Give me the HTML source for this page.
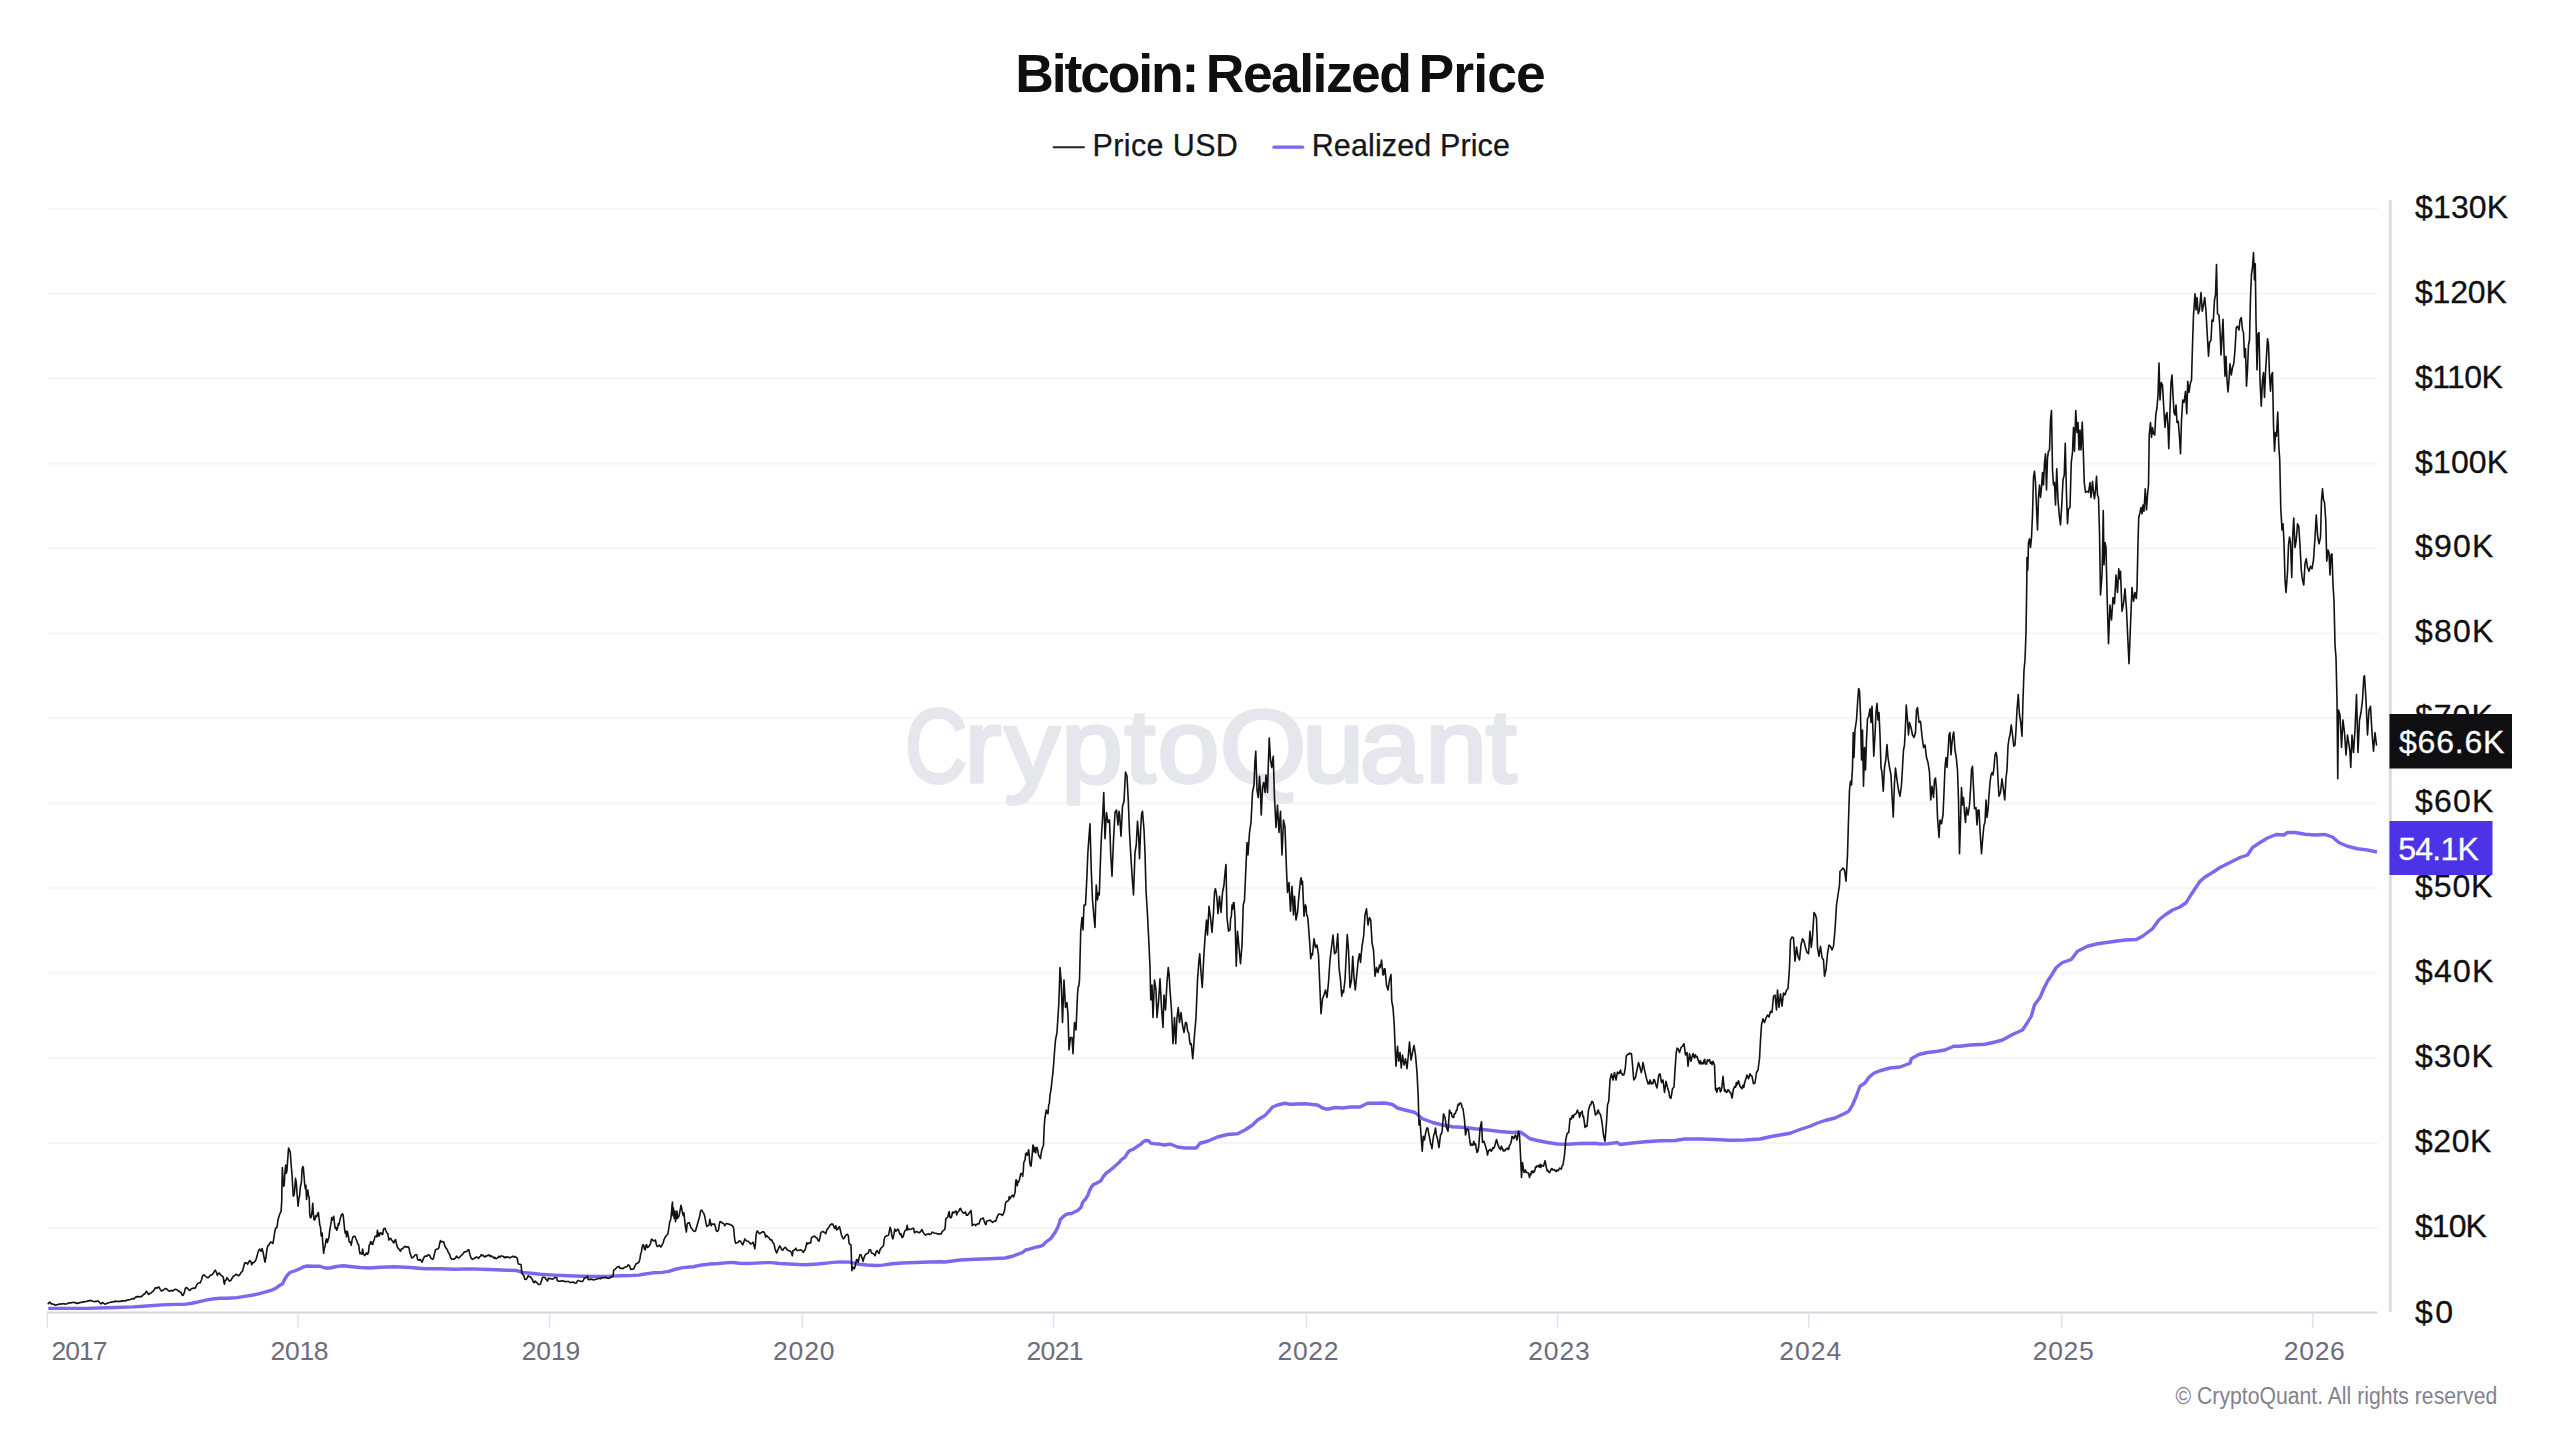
<!DOCTYPE html>
<html lang="en"><head><meta charset="utf-8"><title>Bitcoin: Realized Price</title>
<style>
html,body{margin:0;padding:0;background:#fff;}
body{width:2560px;height:1440px;overflow:hidden;position:relative;font-family:"Liberation Sans", Arial, Helvetica, sans-serif;}
svg{position:absolute;left:0;top:0;display:block}
text{font-family:"Liberation Sans", Arial, Helvetica, sans-serif;}
.ttl{font-size:53.5px;font-weight:700;fill:#0f0f12;letter-spacing:-1.9px;word-spacing:-3px}
.lg{font-size:30.5px;fill:#15151a;stroke:#15151a;stroke-width:0.25px;letter-spacing:0.38px}
.yl{font-size:32px;fill:#101014;letter-spacing:-0.1px;stroke:#101014;stroke-width:0.3px}
.xl{font-size:26.5px;fill:#6c6c7c}
.cp{font-size:23px;fill:#82828f}
.wm{font-size:103px;font-weight:400;fill:#e6e6ed;stroke:#e6e6ed;stroke-width:3.5px;stroke-linejoin:round}
</style></head><body>
<svg width="2560" height="1440" viewBox="0 0 2560 1440">
<rect width="2560" height="1440" fill="#ffffff"/>

<g stroke="#f5f5f8" stroke-width="2" fill="none">
<line x1="48" y1="1227.96" x2="2377.6" y2="1227.96"/>
<line x1="48" y1="1143.02" x2="2377.6" y2="1143.02"/>
<line x1="48" y1="1058.08" x2="2377.6" y2="1058.08"/>
<line x1="48" y1="973.14" x2="2377.6" y2="973.14"/>
<line x1="48" y1="888.20" x2="2377.6" y2="888.20"/>
<line x1="48" y1="803.26" x2="2377.6" y2="803.26"/>
<line x1="48" y1="718.32" x2="2377.6" y2="718.32"/>
<line x1="48" y1="633.38" x2="2377.6" y2="633.38"/>
<line x1="48" y1="548.44" x2="2377.6" y2="548.44"/>
<line x1="48" y1="463.50" x2="2377.6" y2="463.50"/>
<line x1="48" y1="378.56" x2="2377.6" y2="378.56"/>
<line x1="48" y1="293.62" x2="2377.6" y2="293.62"/>
<line x1="48" y1="208.68" x2="2377.6" y2="208.68"/>
</g>
<text class="wm" transform="scale(1.08 1)" x="837.7 892.8 930.2 982.3 1041.2 1071.8 1129.5 1205.8 1258.7 1319.7 1375.6" y="782"><tspan textLength="58" lengthAdjust="spacingAndGlyphs">C</tspan>ryptoQuant</text>
<g stroke="#d6d6e2" stroke-width="2" fill="none">
<line x1="46.5" y1="1312.6" x2="2377.6" y2="1312.6"/>
<line x1="2390.3" y1="200" x2="2390.3" y2="1312" stroke-width="3" stroke="#dadae6"/>
</g>
<g stroke="#e1e1ea" stroke-width="1.5" fill="none">
<line x1="47.25" y1="1312.6" x2="47.25" y2="1327.8"/>
<line x1="298.1" y1="1312.6" x2="298.1" y2="1327.8"/>
<line x1="549.5" y1="1312.6" x2="549.5" y2="1327.8"/>
<line x1="802.25" y1="1312.6" x2="802.25" y2="1327.8"/>
<line x1="1053.5" y1="1312.6" x2="1053.5" y2="1327.8"/>
<line x1="1306.5" y1="1312.6" x2="1306.5" y2="1327.8"/>
<line x1="1557.5" y1="1312.6" x2="1557.5" y2="1327.8"/>
<line x1="1808.75" y1="1312.6" x2="1808.75" y2="1327.8"/>
<line x1="2061.75" y1="1312.6" x2="2061.75" y2="1327.8"/>
<line x1="2312.8" y1="1312.6" x2="2312.8" y2="1327.8"/>
</g>
<text class="xl" x="51.6" y="1360.3" style="letter-spacing:-1.0px">2017</text>
<text class="xl" x="299.44" y="1360.3" text-anchor="middle" style="letter-spacing:-0.33px">2018</text>
<text class="xl" x="550.91" y="1360.3" text-anchor="middle" style="letter-spacing:-0.17px">2019</text>
<text class="xl" x="804.16" y="1360.3" text-anchor="middle" style="letter-spacing:0.83px">2020</text>
<text class="xl" x="1054.66" y="1360.3" text-anchor="middle" style="letter-spacing:-0.67px">2021</text>
<text class="xl" x="1308.34" y="1360.3" text-anchor="middle" style="letter-spacing:0.67px">2022</text>
<text class="xl" x="1559.45" y="1360.3" text-anchor="middle" style="letter-spacing:0.9px">2023</text>
<text class="xl" x="1810.75" y="1360.3" text-anchor="middle" style="letter-spacing:1.0px">2024</text>
<text class="xl" x="2063.62" y="1360.3" text-anchor="middle" style="letter-spacing:0.75px">2025</text>
<text class="xl" x="2314.64" y="1360.3" text-anchor="middle" style="letter-spacing:0.67px">2026</text>
<text class="yl" x="2415" y="1323.3" style="letter-spacing:2.4px">$0</text>
<text class="yl" x="2415" y="1237.0" style="letter-spacing:-0.95px">$10K</text>
<text class="yl" x="2415" y="1152.0" style="letter-spacing:0.55px">$20K</text>
<text class="yl" x="2415" y="1067.1" style="letter-spacing:1.0px">$30K</text>
<text class="yl" x="2415" y="982.1" style="letter-spacing:1.2px">$40K</text>
<text class="yl" x="2415" y="897.2" style="letter-spacing:0.9px">$50K</text>
<text class="yl" x="2415" y="812.3" style="letter-spacing:1.2px">$60K</text>
<text class="yl" x="2415" y="727.3" style="letter-spacing:1.0px">$70K</text>
<text class="yl" x="2415" y="642.4" style="letter-spacing:1.2px">$80K</text>
<text class="yl" x="2415" y="557.4" style="letter-spacing:1.2px">$90K</text>
<text class="yl" x="2415" y="472.5" style="letter-spacing:0.15px">$100K</text>
<text class="yl" x="2415" y="387.6" style="letter-spacing:-0.6px">$110K</text>
<text class="yl" x="2415" y="302.6" style="letter-spacing:-0.18px">$120K</text>
<text class="yl" x="2415" y="217.7" style="letter-spacing:0.15px">$130K</text>
<path d="M48.2 1308.41 L86.87 1308.41 L115 1307.47 L133.75 1306.91 L143.12 1306.25 L161.87 1304.84 L175.94 1304.37 L185.31 1304.19 L191.87 1303.25 L199.37 1301.56 L206.87 1299.87 L214.37 1298.75 L220.94 1298.09 L227.5 1298.28 L236.87 1297.62 L246.25 1296.12 L255.62 1294.53 L265 1292.19 L272.5 1289.84 L276.25 1287.97 L280 1285.16 L282.5 1283.75 L285 1278.75 L287.5 1275 L290 1272.5 L295 1270.75 L300 1268.75 L303.75 1266.75 L307.5 1266 L312.5 1266.25 L320 1266.25 L325 1268 L330 1268 L336.25 1266.5 L343.75 1265.75 L350 1266.5 L360 1267.5 L370 1268 L380 1267.25 L395 1266.75 L410 1267.5 L425 1268.75 L440 1268.75 L455 1269.25 L470 1268.87 L488.75 1269.53 L507.5 1270.28 L516.87 1270.56 L522.5 1272.34 L530.94 1273.28 L540.31 1274.22 L554.37 1275.16 L568.44 1275.81 L582.5 1276.28 L596.56 1276.56 L605.94 1276.56 L612.5 1276.09 L620 1275.81 L629.37 1275.62 L638.75 1275.16 L643.44 1274.22 L652.81 1272.81 L662.19 1272.34 L668.75 1271.41 L674.37 1269.53 L682.81 1267.66 L693.12 1266.72 L699.69 1265.31 L706.25 1264.56 L709.37 1264.03 L718.75 1263.56 L728.12 1262.62 L732.81 1262.53 L739.37 1263.28 L746.87 1263.47 L756.25 1263.09 L765.62 1262.62 L771.25 1262.62 L779.69 1263.47 L789.06 1263.94 L798.44 1264.5 L805.94 1264.69 L817.19 1264.03 L826.56 1263.09 L833.12 1262.34 L840.62 1261.87 L850 1262.16 L854.69 1263.28 L859.37 1264.22 L866.87 1264.97 L875.31 1265.44 L882.81 1265.16 L892.19 1263.75 L901.56 1263 L915.62 1262.53 L929.69 1262.06 L940 1261.69 L945 1262 L960 1260 L975 1259.25 L990 1258.75 L1005 1258 L1012.5 1256.25 L1022.5 1252.5 L1025.62 1250 L1029.37 1249.06 L1035 1247.37 L1040.62 1246.25 L1043.44 1244.84 L1045.31 1242.5 L1050.94 1238.28 L1054.69 1233.12 L1057.5 1227.97 L1059.37 1222.81 L1060.31 1219.53 L1063.12 1216.72 L1065.94 1214.66 L1068.75 1213.72 L1071.56 1213.44 L1074.37 1212.03 L1078.12 1210.16 L1080.94 1207.34 L1082.81 1202.19 L1085.62 1198.91 L1087.97 1195.16 L1089.37 1190.94 L1091.25 1187.19 L1093.12 1184.84 L1096.41 1183.25 L1100.62 1181.09 L1103.44 1176.41 L1106.25 1173.12 L1110 1170.31 L1114.22 1166.84 L1119.37 1162.34 L1121.25 1159.81 L1125 1157.19 L1127.81 1152.5 L1129.69 1150.62 L1133.44 1149.22 L1138.12 1145.94 L1140.94 1144.06 L1143.28 1141.72 L1145.62 1140.5 L1148.44 1140.78 L1150.78 1143.12 L1155 1143.87 L1159.69 1144.06 L1164.37 1145 L1170 1144.06 L1171.25 1144.5 L1177.5 1147 L1185 1148 L1196.25 1148 L1200 1143.25 L1207.5 1141.25 L1217.5 1137 L1227.5 1134.5 L1237.5 1133.75 L1245 1130 L1252.5 1125 L1257.5 1120 L1265 1115.5 L1272.5 1107 L1277.5 1105 L1285 1103.25 L1290 1104.25 L1305 1103.75 L1317.5 1105 L1322.5 1108 L1327.5 1109.25 L1335 1107.5 L1342.5 1108 L1350 1107 L1360 1107 L1367.5 1103.25 L1375 1103.25 L1385 1103 L1392.5 1104.5 L1397.5 1108 L1405 1110 L1415 1112.5 L1422.5 1118.75 L1432.5 1122.5 L1442.5 1125 L1452.5 1126.75 L1465 1127.5 L1475 1128.75 L1487.5 1130 L1500 1131.5 L1512.5 1132.5 L1520 1132 L1525 1135 L1530 1138.75 L1537.5 1140.5 L1547.5 1142.5 L1557.5 1144 L1567.5 1144.25 L1580 1143.5 L1595 1143.25 L1600 1144 L1607.5 1143.75 L1617.5 1142.5 L1620 1144.5 L1630 1143.25 L1645 1141.75 L1660 1140.75 L1675 1140.5 L1685 1139 L1700 1139 L1715 1139.5 L1730 1140.25 L1745 1140 L1760 1139 L1770 1136.75 L1780 1135 L1790 1133.25 L1800 1129.5 L1810 1126.25 L1817.5 1123 L1825 1120.5 L1835 1118 L1842.5 1114.5 L1848.75 1111.25 L1852.5 1105 L1856.25 1096.25 L1860 1086.25 L1865 1083 L1868.75 1077.5 L1873.75 1073.25 L1880 1070.75 L1890 1068 L1900 1067 L1910 1063.25 L1911.25 1058.75 L1918.75 1054.5 L1927.5 1052.5 L1937.5 1051.25 L1945 1050 L1953.75 1046.25 L1960 1046.25 L1970 1045 L1985 1044.25 L1995 1042 L2002.5 1040 L2012.5 1034.5 L2022.5 1030 L2027.5 1022.5 L2031.25 1016.25 L2034.5 1005 L2040 997.5 L2043.75 988.75 L2047.5 981.25 L2052 974.5 L2056.25 967.5 L2062.5 962.5 L2071.25 959.5 L2077.5 951.25 L2087.5 946.25 L2097.5 943.75 L2110 942 L2125 940 L2136.25 939.5 L2142.5 936.25 L2152.5 928.75 L2158.75 920 L2165 915 L2172.5 910 L2180 907 L2186.25 902.5 L2190 896.25 L2195 888.75 L2200 881.25 L2205 877 L2212.5 872.5 L2220 867.5 L2230 862.5 L2240 857.5 L2247.5 855 L2252.5 847.5 L2260 842.5 L2267.5 838 L2276.25 834.5 L2283.75 835 L2287.5 832.5 L2295 832.5 L2305 834.25 L2315 835 L2325 834.5 L2332.5 837 L2338.75 842.5 L2347.5 846.25 L2357.5 848.75 L2367.5 850 L2377 852" fill="none" stroke="#7b68ee" stroke-width="3.4" stroke-linejoin="round" stroke-linecap="butt"/>
<path d="M48.25 1303.62 L49.05 1302.7 L49.84 1302.03 L51.25 1303.91 L52.19 1303.8 L53.12 1304.19 L53.9 1304.67 L54.69 1304.64 L55.47 1305.31 L56.25 1305.08 L57.03 1304.72 L57.81 1304.56 L58.59 1304.13 L59.38 1304.32 L60.16 1304.19 L60.94 1303.77 L61.72 1303.96 L62.5 1303.91 L63.28 1303.67 L64.06 1303.74 L64.84 1304.09 L65.62 1303.91 L66.41 1304.07 L67.19 1303.72 L67.89 1303.19 L68.59 1303 L69.3 1303.04 L70 1302.69 L70.78 1302.96 L71.56 1302.62 L72.34 1302.5 L73.75 1302.31 L74.69 1302.56 L75.62 1302.97 L76.33 1303.39 L77.03 1302.78 L77.73 1303.44 L78.44 1303.25 L79.14 1302.91 L79.84 1302.61 L80.55 1302.41 L81.25 1302.5 L82.03 1302.11 L82.81 1302.24 L83.59 1301.75 L84.37 1301.44 L85.16 1301.69 L85.94 1301.56 L86.72 1301.45 L87.5 1301.03 L88.28 1300.91 L89.06 1300.85 L89.84 1300.37 L90.62 1300.62 L91.25 1300.43 L91.87 1300.7 L92.5 1301.09 L93.44 1301.56 L94.37 1301.75 L95 1301.57 L95.62 1301.35 L96.25 1301.37 L97.19 1301.21 L98.12 1300.91 L98.75 1301.56 L99.37 1302.13 L100 1302.97 L100.94 1303.91 L102.34 1302.5 L103.75 1303.44 L104.87 1304.19 L105.72 1304.02 L106.56 1303.44 L107.34 1303.33 L108.13 1302.75 L108.91 1302.69 L109.69 1302.53 L110.47 1302.27 L111.25 1302.03 L111.95 1302.2 L112.66 1301.97 L113.36 1301.52 L114.06 1301.56 L114.84 1301.83 L115.63 1301.08 L116.41 1301.28 L117.19 1301.31 L117.97 1301.66 L118.75 1301.56 L119.53 1301.2 L120.31 1301.36 L121.09 1301.28 L121.87 1300.77 L122.66 1301.1 L123.44 1300.81 L124.22 1300.95 L125 1300.74 L125.78 1300.62 L126.56 1300.67 L127.34 1299.97 L128.12 1299.87 L128.9 1299.9 L129.69 1299.7 L130.47 1299.5 L131.41 1299.1 L132.34 1298.56 L132.97 1298.59 L133.59 1298.97 L134.22 1298.75 L135.62 1297.06 L136.25 1297.23 L136.87 1296.6 L137.5 1296.41 L138.91 1296.87 L140.31 1296.41 L141.25 1296.69 L142.19 1295.99 L143.12 1295 L143.75 1294.12 L144.37 1294.25 L145 1293.59 L146.41 1291.25 L147.34 1292.66 L148.56 1294.53 L149.69 1293.59 L151.09 1292.94 L152.5 1291.72 L153.34 1290.93 L154.19 1289.84 L155.5 1287.69 L156.72 1288.25 L157.94 1287.31 L159.06 1287.03 L160.19 1289.37 L161.41 1291.06 L162.81 1290.31 L164.22 1289.37 L165.62 1288.44 L167.03 1289.19 L168.44 1290.78 L169.84 1291.25 L171.25 1290.31 L172.66 1291.06 L174.06 1289.84 L175.47 1289.19 L176.87 1289.84 L178.28 1290.78 L179.69 1291.72 L181.09 1292.66 L182.03 1295 L182.97 1295.47 L184.37 1292.66 L185.31 1288.44 L186.25 1287.5 L187.66 1288.44 L189.06 1290.12 L190 1290.5 L191.12 1288.91 L192.34 1288.44 L193.75 1287.97 L194.69 1288.44 L195.62 1287.5 L196.56 1285.16 L197.69 1283.56 L198.91 1282.81 L200.31 1282.81 L201.44 1280 L202.66 1275.78 L204.06 1274.84 L205.47 1276.25 L206.87 1277.37 L208.28 1277.66 L209.5 1276.25 L210.62 1275.12 L212.03 1274.84 L213.44 1272.97 L214.56 1271.09 L215.31 1270.16 L216.25 1272.03 L217.37 1275.31 L218.31 1273.44 L219.25 1272.97 L220.47 1274.84 L221.87 1275.78 L223.28 1277.19 L223.94 1282.34 L224.5 1284.22 L225.16 1280.47 L226.09 1280 L227.03 1277.66 L228.25 1279.53 L229.37 1281.12 L230.78 1280.47 L232.19 1278.12 L233.31 1276.25 L234.53 1275.78 L235.94 1274.37 L237.34 1274.84 L238.56 1275.78 L239.69 1274.84 L241.09 1272.5 L242.5 1271.09 L243.44 1267.81 L244.37 1263.59 L245.31 1262.66 L246.72 1263.12 L247.66 1264.06 L248.59 1262.19 L249.81 1260.5 L250.94 1261.72 L251.69 1264.81 L252.62 1262.66 L253.75 1262.66 L254.69 1261.72 L256.09 1259.37 L257.03 1256.09 L257.97 1252.34 L258.91 1250 L259.84 1249.06 L261.06 1251.41 L262.19 1248.59 L263.12 1252.34 L264.06 1257.5 L265 1262.19 L265.94 1257.5 L266.87 1250 L267.81 1245.78 L268.75 1245.31 L269.69 1243.44 L270.62 1242.03 L271.75 1242.5 L272.97 1243.44 L273.91 1237.81 L274.84 1231.25 L275.78 1227.97 L277 1227.5 L277.94 1220 L279.06 1216.25 L280 1213.44 L281.06 1211.56 L281.72 1201.25 L282 1182.5 L282.37 1167.5 L282.94 1178.75 L283.59 1186.25 L284.25 1185.31 L284.81 1174.06 L285.66 1165.16 L286.22 1173.12 L286.87 1171.25 L287.62 1160.94 L288.56 1148 L289.5 1150.16 L290.25 1152.03 L291.09 1163.75 L292.03 1175 L292.69 1186.25 L293.25 1196.09 L294.19 1194.69 L294.84 1188.12 L295.5 1178.28 L296.25 1182.5 L296.81 1190 L297.37 1197.5 L298.12 1206.12 L298.87 1198.44 L299.62 1195.62 L300.47 1186.25 L301.41 1182.5 L302.06 1169.37 L302.81 1166.56 L303.37 1167.5 L303.94 1175 L304.69 1184.37 L305.34 1188.59 L305.91 1185.31 L306.56 1199.37 L307.12 1191.87 L307.87 1190 L308.44 1195.62 L309.19 1197.5 L309.75 1214.37 L310.31 1217.66 L311.25 1217.19 L312 1212.5 L312.75 1203.31 L313.31 1212.5 L314.06 1220 L315 1219.53 L315.75 1215.78 L316.69 1216.72 L317.62 1213.44 L318.37 1212.5 L319.22 1220 L319.87 1225.62 L320.44 1226.56 L321.19 1235.94 L322.12 1233.12 L322.87 1244.37 L323.62 1253.28 L324.37 1248.12 L325.12 1246.25 L325.87 1240.62 L326.62 1238.75 L327.37 1242.5 L328.12 1239.69 L328.87 1237.81 L329.62 1231.25 L330.37 1226.56 L331.12 1222.81 L331.69 1217.66 L332.44 1220 L333 1218.12 L333.75 1216.25 L334.5 1223.75 L335.25 1228.44 L336 1227.5 L336.75 1230.31 L337.5 1228.44 L338.25 1223.75 L339 1224.69 L339.75 1220.94 L340.5 1217.66 L341.44 1214.84 L342.37 1213.91 L343.12 1214.84 L343.87 1221.87 L344.62 1229.37 L345.19 1233.12 L345.94 1231.25 L346.5 1236.87 L347.25 1231.25 L347.81 1234.06 L348.56 1236.87 L349.12 1241.56 L349.87 1242.5 L350.62 1242.03 L351.19 1245.31 L351.94 1240.62 L352.87 1236.87 L353.81 1236.41 L354.94 1236.41 L355.87 1238.75 L356.81 1240.62 L357.75 1243.91 L358.69 1244.84 L359.44 1250.94 L360 1253.75 L360.94 1253.28 L361.87 1254.22 L362.62 1249.06 L363.37 1253.75 L364.69 1255.62 L365.62 1254.22 L366.56 1252.81 L367.5 1254.22 L368.44 1252.81 L369.19 1245.31 L369.94 1244.37 L370.69 1241.56 L371.25 1243.91 L372 1242.5 L372.75 1244.37 L373.5 1241.09 L374.25 1239.69 L375 1236.41 L376.12 1235.94 L376.87 1236.87 L377.44 1230.31 L378 1235.94 L378.75 1233.12 L379.31 1235.94 L380.06 1233.12 L381 1232.66 L381.75 1234.06 L382.69 1234.53 L383.44 1229.37 L384.37 1228.44 L385.12 1228.25 L385.87 1230.78 L386.81 1232.66 L387.94 1234.06 L388.87 1240.16 L389.81 1238.75 L390.75 1238.28 L391.69 1240.16 L392.81 1241.56 L393.75 1242.97 L394.69 1240.62 L395.62 1239.69 L396.56 1244.37 L397.5 1247.19 L398.44 1248.59 L399.37 1249.53 L400.5 1251.41 L401.44 1249.06 L402.66 1248.59 L404.06 1247.19 L405.19 1246.25 L406.41 1247.19 L407.81 1246.72 L408.94 1247.66 L409.87 1252.81 L410.81 1255.16 L411.75 1257.97 L412.97 1257.5 L414.19 1256.09 L415.31 1254.69 L416.72 1254.69 L417.66 1259.84 L418.87 1260.31 L420 1259.37 L421.12 1260.78 L422.06 1262.19 L423.28 1258.91 L424.5 1256.56 L425.62 1256.09 L427.03 1256.09 L428.44 1254.69 L429.56 1255.16 L430.78 1257.97 L432.19 1259.19 L433.31 1258.91 L434.25 1254.69 L435.47 1250 L436.69 1249.06 L438 1249.06 L438.94 1247.66 L439.69 1243.44 L440.44 1240.62 L441.37 1242.03 L442.5 1241.56 L443.62 1242.03 L444.84 1245.78 L446.06 1248.12 L447.19 1249.53 L448.31 1252.34 L449.53 1254.22 L450.75 1257.97 L451.87 1259.37 L453 1258.91 L454.22 1259.19 L455.44 1257.97 L456.56 1256.09 L457.69 1257.5 L458.91 1257.97 L460.31 1256.56 L461.72 1255.16 L463.12 1253.75 L464.25 1251.87 L465.47 1251.87 L466.69 1251.41 L467.81 1250 L468.94 1249.81 L469.87 1254.69 L471.09 1257.97 L472.31 1259.37 L473.62 1258.91 L474.84 1257.97 L476.25 1257.03 L477.66 1257.5 L478.59 1258.44 L479.53 1256.75 L480.39 1256.54 L481.25 1254.5 L482 1255.6 L482.75 1255.1 L483.5 1255.79 L484.25 1256.81 L485 1257 L485.75 1255.82 L486.5 1256.33 L487.25 1255.49 L488 1255.09 L488.75 1255.5 L489.5 1254.98 L490.25 1256.6 L491 1255.71 L491.75 1256.23 L492.5 1257 L493.25 1257.15 L494 1258.37 L494.75 1257.29 L495.5 1258.31 L496.25 1258.75 L497.08 1258.01 L497.92 1257.78 L498.75 1256.25 L499.5 1256.84 L500.25 1256.92 L501 1255.84 L501.75 1256.09 L502.5 1256.25 L503.25 1256.24 L504 1257.45 L504.75 1257.84 L505.5 1256.61 L506.25 1257.5 L507 1256.95 L507.75 1257.1 L508.5 1257.14 L509.25 1257.64 L510 1257.71 L511.42 1257 L512.17 1256.69 L512.93 1256.06 L514.25 1257.24 L514.88 1256.85 L515.51 1256.43 L516.14 1257.38 L517.32 1258.18 L517.79 1262.2 L518.5 1264.09 L519.92 1264.32 L521.1 1264.79 L521.57 1270.22 L521.81 1273.06 L522.99 1274.71 L524.17 1276.13 L524.73 1279.2 L526.06 1279.43 L527 1278.49 L528.18 1275.66 L529.36 1276.6 L530.54 1276.84 L531.72 1278.72 L532.43 1279.43 L533.14 1281.79 L534.09 1282.74 L535.27 1281.09 L536.21 1282.27 L537.15 1282.74 L538.1 1284.16 L539.28 1284.63 L540.46 1283.92 L541.4 1281.09 L542.59 1277.31 L543.77 1277.31 L544.95 1277.54 L545.89 1278.96 L546.84 1280.14 L547.54 1281.09 L548.49 1278.02 L549.43 1278.72 L550.61 1278.49 L551.56 1278.96 L552.74 1279.2 L553.68 1278.49 L554.63 1277.54 L555.34 1277.48 L556.04 1277.47 L556.75 1277.69 L557.23 1280.61 L558.17 1281.09 L559.35 1281.32 L560.53 1281.09 L561.95 1280.99 L563.13 1280.61 L564.31 1281.56 L565.73 1281.65 L567.14 1281.56 L568.56 1281.46 L569.74 1282.5 L570.92 1282.5 L572.34 1281.94 L573.52 1282.27 L574.7 1282.98 L576.12 1283.21 L577.3 1281.09 L578.48 1280.38 L579.89 1281.09 L581.31 1281.46 L582.49 1281.56 L583.44 1280.14 L584.14 1278.49 L585.56 1277.78 L586.51 1277.31 L587.45 1276.13 L588.16 1279.67 L589.34 1279.2 L589.97 1279.21 L590.6 1279.63 L591.23 1278.96 L592.41 1279.43 L593.59 1279.91 L595.01 1279.43 L596.42 1279.2 L597.84 1278.49 L599.26 1278.49 L600.44 1278.72 L601.85 1277.78 L603.27 1277.54 L604.1 1277.68 L604.92 1277.31 L606.34 1277.78 L607.76 1278.25 L608.94 1278.35 L610.12 1277.78 L611.3 1276.84 L612.12 1276.58 L612.95 1276.27 L613.42 1273.06 L613.66 1270.22 L614.84 1269.52 L616.02 1268.34 L617.2 1267.01 L618.15 1266.92 L619.09 1266.45 L620.04 1268.34 L621.45 1268.34 L622.63 1268.34 L623.34 1268.57 L624.29 1267.39 L625.7 1266.92 L627.12 1266.45 L628.3 1264.79 L629.48 1265.74 L630.78 1269.53 L632 1269.06 L632.8 1269.24 L633.59 1269.06 L634.81 1266.25 L635.94 1263.91 L637.34 1263.25 L638.75 1262.5 L639.87 1259.22 L640.62 1254.06 L641.37 1252.19 L642.03 1247.5 L642.97 1244.69 L643.62 1245.16 L644.37 1248.91 L645.12 1249.84 L645.87 1245.62 L646.62 1244.69 L647.37 1247.5 L648.12 1247.03 L649.25 1246.09 L650.47 1243.75 L651.12 1240 L651.87 1239.06 L653 1240.47 L654.22 1240.94 L655.44 1240 L656.37 1244.69 L657.31 1246.56 L658.44 1246.09 L659.56 1245.16 L660.78 1247.03 L662 1245.16 L663.12 1242.81 L664.25 1239.06 L665.47 1236.72 L666.69 1235.31 L667.81 1233.91 L668.75 1228.75 L669.69 1222.19 L670.81 1218.91 L671.56 1211.87 L672.03 1205.31 L672.5 1202.03 L672.97 1215.62 L673.44 1208.12 L674.19 1218.44 L674.94 1210.94 L675.5 1221.72 L676.25 1217.5 L676.91 1210.94 L677.56 1218.44 L678.31 1217.03 L679.06 1216.09 L680 1210.94 L680.94 1205.31 L681.69 1208.12 L682.44 1212.81 L683.28 1215.62 L683.94 1212.81 L684.69 1220.31 L685.44 1226.87 L686.37 1232.03 L687.12 1224.06 L687.97 1223.12 L689.19 1222.66 L690.12 1225 L691.06 1227.81 L692 1228.75 L693.12 1230.62 L694.25 1231.37 L695.47 1231.09 L696.41 1227.81 L697.34 1224.53 L698.56 1220.31 L699.69 1216.09 L700.62 1210.94 L701.75 1210 L702.97 1212.34 L703.91 1213.75 L704.84 1216.56 L705.78 1222.19 L706.72 1226.41 L708.12 1225.47 L709.06 1225 L709.81 1219.37 L711.25 1225.78 L712.19 1223.91 L713.31 1224.37 L714.53 1223.91 L715.47 1227.19 L716.41 1230.94 L717.34 1231.41 L718.56 1230 L719.31 1224.37 L720.06 1221.56 L721.09 1222.03 L722.5 1222.97 L723.91 1223.91 L724.84 1225.78 L725.78 1223.91 L726.72 1223.44 L728.12 1223.91 L729.53 1224.37 L730.94 1224.84 L732.34 1225.78 L733.56 1227.66 L734.22 1234.69 L734.69 1239.37 L735.62 1243.12 L737.03 1242.66 L738.25 1242.19 L739.37 1240.78 L740.5 1241.25 L741.72 1243.12 L742.66 1245 L743.59 1242.66 L744.81 1238.91 L745.94 1240.31 L747.06 1241.25 L748.28 1241.25 L749.5 1242.66 L750.62 1243.87 L751.75 1243.59 L752.97 1242.19 L753.91 1245 L754.84 1248.75 L755.5 1243.12 L756.06 1235.62 L756.72 1231.87 L757.37 1230.94 L758.31 1232.34 L759.53 1233.75 L760.94 1232.81 L762.34 1231.87 L763.56 1231.87 L764.69 1233.28 L765.62 1237.03 L766.75 1235.62 L767.97 1237.03 L769.19 1237.97 L770.31 1239.84 L771.72 1239.84 L772.94 1242.66 L774.06 1244.06 L775 1248.75 L775.94 1251.56 L776.69 1252.97 L777.62 1250.62 L778.75 1247.81 L779.69 1245.94 L780.62 1247.34 L781.75 1249.69 L782.97 1250.16 L783.91 1248.28 L785.12 1247.34 L786.25 1248.28 L787.37 1250.16 L788.59 1250.62 L789.81 1251.09 L790.75 1251.56 L791.69 1253.44 L792.34 1255.78 L793 1250.62 L794.22 1250.16 L795.16 1249.22 L795.81 1248.28 L796.75 1250.16 L797.97 1250.62 L799.19 1250.16 L800.5 1249.69 L801.72 1250.62 L802.66 1251.09 L803.31 1252.5 L804.25 1250.62 L805.19 1249.69 L806.12 1245.94 L806.87 1242.66 L807.81 1244.06 L808.56 1243.12 L809.69 1242.66 L810.62 1243.12 L811.56 1237.5 L812.5 1237.03 L813.62 1236.56 L814.56 1236.09 L815.78 1237.5 L817 1237.97 L817.94 1240.31 L819.06 1241.06 L820 1237.5 L820.94 1232.34 L821.87 1231.87 L822.81 1231.41 L823.94 1232.34 L825.16 1232.81 L825.81 1233.75 L826.75 1230 L827.97 1228.59 L828.91 1227.19 L829.84 1225.31 L830.78 1224.84 L831.72 1223.91 L832.94 1224.37 L833.87 1226.72 L834.81 1228.59 L835.75 1225.78 L836.69 1230 L837.81 1229.06 L838.75 1227.19 L839.5 1226.72 L840.44 1230.47 L841.37 1234.69 L842.31 1237.03 L843.44 1238.91 L844.37 1237.97 L845.31 1236.09 L846.44 1234.69 L847.37 1234.22 L848.31 1235.62 L849.06 1243.12 L850 1244.53 L850.94 1245 L851.31 1254.37 L851.59 1263.75 L851.87 1270.78 L852.62 1266.56 L853.37 1267.97 L854.22 1268.91 L855.16 1266.56 L855.81 1262.81 L856.56 1259.53 L857.5 1260 L858.25 1262.34 L859 1258.12 L859.84 1254.84 L861.06 1254.84 L862 1258.12 L863.12 1261.41 L864.06 1257.66 L865 1255.31 L866.12 1253.91 L867.34 1253.44 L868.28 1252.97 L869.22 1249.69 L870.44 1249.69 L871.56 1252.97 L872.97 1253.44 L874.19 1254.37 L875.12 1255.78 L876.06 1251.56 L877.19 1250.62 L878.12 1252.5 L879.06 1253.44 L880 1249.69 L880.94 1248.28 L882.34 1246.87 L883.56 1245.47 L884.22 1239.37 L884.87 1237.03 L886.09 1236.09 L887.5 1235.62 L888.62 1235.16 L889.37 1230.94 L890.12 1227.19 L891.06 1230 L892 1236.56 L892.94 1238.91 L893.87 1234.69 L894.81 1229.06 L895.94 1231.41 L896.87 1230 L898 1229.06 L898.94 1231.41 L900.16 1234.69 L901.09 1233.75 L902.03 1237.5 L903.25 1236.56 L904.19 1232.81 L905.12 1230.47 L906.25 1230 L907.19 1225.31 L907.75 1230 L908.59 1229.06 L910 1229.53 L911.41 1229.06 L912.62 1228.59 L913.56 1228.12 L914.5 1232.81 L915.62 1231.87 L916.75 1231.41 L917.97 1232.34 L919.37 1232.81 L920.78 1231.41 L922 1229.53 L923.12 1232.34 L924.25 1233.75 L925.47 1235.16 L926.87 1234.22 L928.28 1233.75 L929.69 1234.69 L931.09 1233.75 L932.5 1232.06 L933.91 1233 L935.31 1233.28 L936.72 1233.56 L938.12 1234.22 L939.53 1233.75 L940 1233.75 L941.06 1234.06 L942.19 1231.72 L943.31 1230.5 L944.53 1229.84 L945.19 1227.5 L945.75 1219.06 L946.69 1217.94 L947.81 1217.19 L948.56 1213.44 L949.22 1211.56 L949.87 1217.19 L950.81 1217.94 L951.75 1216.25 L952.5 1212.03 L953.91 1212.97 L955.12 1211.56 L956.06 1211.09 L956.72 1214.84 L957.66 1212.03 L958.87 1211.09 L959.81 1208.75 L960.47 1208.28 L961.41 1210.62 L962.34 1212.03 L963.56 1213.25 L964.69 1212.5 L965.62 1212.03 L966.37 1215.31 L967.5 1215.12 L968.62 1213.91 L969.84 1212.03 L971.06 1210.62 L971.62 1216.25 L972.19 1225.62 L973.31 1224.69 L974.53 1224.22 L975.75 1225.62 L976.87 1224.22 L978 1223.75 L978.94 1224.03 L979.87 1220.94 L980.81 1218.87 L982.03 1218.59 L983.25 1218.12 L984.19 1220.94 L985.12 1223.75 L986.06 1224.5 L986.72 1220.94 L987.94 1220.75 L989.06 1220.47 L990.19 1220 L991.41 1221.41 L992.62 1222.34 L993.75 1221.41 L994.87 1220.94 L995.62 1221.41 L996.75 1218.12 L997.69 1215.78 L998.91 1213.91 L1000.12 1214.19 L1001.25 1214.37 L1002.19 1215.31 L1003.12 1214.37 L1004.25 1211.56 L1005 1207.34 L1005.47 1203.12 L1006.41 1201.72 L1007.62 1201.06 L1008.56 1200.31 L1009.22 1196.56 L1009.87 1198.91 L1010.81 1197.5 L1011.75 1195.81 L1012.69 1195.16 L1013.62 1197.03 L1014.37 1194.69 L1015.12 1191.87 L1015.59 1183.44 L1016.06 1179.69 L1016.72 1180.62 L1017.19 1185.78 L1017.94 1181.56 L1018.59 1182.03 L1019.53 1179.69 L1020.19 1175.94 L1020.75 1173.59 L1021.41 1174.06 L1022.06 1173.59 L1022.62 1176.41 L1023.28 1171.25 L1023.75 1162.81 L1024.5 1160.94 L1025.16 1159.53 L1025.62 1153.91 L1026.56 1152.97 L1027.31 1155.31 L1027.97 1153.44 L1028.62 1149.69 L1029.19 1155.31 L1029.75 1161.87 L1030.31 1165.62 L1031.06 1166.09 L1031.72 1160 L1032.37 1152.5 L1032.94 1145 L1033.5 1146.87 L1034.06 1152.03 L1034.62 1147.34 L1035.19 1148.28 L1035.75 1152.97 L1036.31 1147.81 L1037.06 1147.34 L1037.81 1150.62 L1038.56 1155.31 L1039.5 1156.72 L1040.44 1158.59 L1041.09 1153.91 L1041.75 1150.16 L1042.5 1147.81 L1043.44 1145.47 L1043.91 1133.75 L1044.37 1124.37 L1044.84 1118.75 L1046.25 1110 L1047.12 1112.81 L1048 1113.75 L1048.67 1105.05 L1049.33 1103.45 L1050 1095 L1050.67 1091.65 L1051.33 1087.21 L1052 1080 L1052.88 1073.12 L1053.75 1062.5 L1054.62 1050.52 L1055.5 1040 L1057 1032.5 L1057.88 1017.99 L1058.75 1005 L1060 967.5 L1061.25 982.5 L1062.5 1022.5 L1064 980 L1065.5 1007.5 L1067 1002.5 L1068 1015 L1069 1050 L1070.5 1037.5 L1072 1037.5 L1073 1053.75 L1074.5 1022.5 L1076 1030 L1077.5 995 L1078.17 986.71 L1078.83 986.11 L1079.5 980 L1080.75 930 L1082 917.5 L1083 930 L1084 905 L1085.5 905 L1087 875 L1087.88 852.5 L1088.75 840 L1090 823.75 L1091.25 870 L1092.5 900 L1094 917.5 L1095 927.5 L1096.25 885 L1097.5 900 L1098.38 892.97 L1099.25 895 L1100.75 852.5 L1101.62 832.78 L1102.5 820 L1103.75 792.5 L1105 838.75 L1106.5 812.5 L1108 822.5 L1109.5 820 L1110.75 855 L1112 876.25 L1113.5 840 L1115 812.5 L1116.5 810 L1118 825 L1119 811.25 L1119.67 815.45 L1120.33 825.96 L1121 836.25 L1122.5 806.25 L1124 801.25 L1125.5 772 L1127 776.25 L1128.25 800 L1129.5 832.5 L1130.5 850 L1132 875 L1133.5 895 L1135 852.5 L1136.25 845 L1137.5 821.25 L1138.75 837.5 L1139.5 858.75 L1140.75 827.5 L1141.62 813.86 L1142.5 811.25 L1144 830 L1145 852.5 L1146 890 L1147.5 915 L1149 945 L1150 967.5 L1150.75 1000 L1152 985 L1153 1017.5 L1154.5 980 L1156 990 L1157 1017.5 L1158.5 1002.5 L1160 978.75 L1161.5 1007.5 L1163 1027.5 L1164 995 L1165.5 1010 L1167 982.5 L1168.25 967.5 L1169.12 974.5 L1170 990 L1171.5 1010 L1173 1043.75 L1174.5 1017.5 L1175.75 1043.75 L1177 1017.5 L1178.25 1007.5 L1179.5 1022.5 L1181 1012.5 L1182.5 1025 L1184 1032.5 L1185.5 1022.5 L1186.17 1022.43 L1186.83 1024.56 L1187.5 1030 L1188.17 1032.36 L1188.83 1033.27 L1189.5 1040 L1190.38 1044.49 L1191.25 1043.75 L1192.75 1058.75 L1193.62 1047.66 L1194.5 1035 L1196 1017.5 L1197.5 980 L1199 960 L1199.75 953.75 L1201 972.5 L1202.25 987.5 L1203.75 957.5 L1205 937.5 L1206.5 920 L1207.5 935 L1209 906.25 L1210.5 917.5 L1212 932.5 L1213.5 912.5 L1214.5 892.5 L1215.38 888.78 L1216.25 892.5 L1217.12 900.57 L1218 913.75 L1219.5 896.25 L1221 912.5 L1222.5 892.5 L1224 885 L1224.67 876.49 L1225.33 869.84 L1226 864.5 L1227 917.5 L1228.5 931.25 L1230 930 L1230.67 917.9 L1231.33 916.82 L1232 905 L1232.67 909.25 L1233.33 902.98 L1234 902.5 L1235 917.5 L1236.25 966.25 L1237.5 931.25 L1239 947.5 L1240.5 963.75 L1242 945 L1243.25 905 L1244.5 900 L1245.38 879.82 L1246.25 860 L1247 842.5 L1248 855 L1249.5 832.5 L1251 822.5 L1252.5 792.5 L1254 785 L1254.88 762.51 L1255.75 751.25 L1257 790 L1258.25 797.5 L1259.5 776.25 L1260.38 790.49 L1261.25 815 L1262.5 787.5 L1263.75 782.5 L1265 792.5 L1266 775 L1267.5 792.5 L1268.38 763.1 L1269.25 738 L1270.5 760 L1271.75 767.5 L1273.25 756.25 L1274.5 797.5 L1276 827.5 L1277.5 805 L1279 832.5 L1280.5 811.25 L1282 855 L1283.5 820 L1285 827.5 L1286.5 870 L1287.5 892.5 L1289 882.5 L1290.5 911.25 L1292 886.25 L1293.5 915 L1294.5 896.25 L1296 920 L1297.5 912.5 L1299 895 L1300.5 880 L1301.17 877.86 L1301.83 884.41 L1302.5 881.25 L1304 916.25 L1304.67 909.49 L1305.33 904.75 L1306 906.25 L1306.67 915.38 L1307.33 915.7 L1308 920 L1309.5 940 L1310.75 958.75 L1311.62 953.68 L1312.5 955 L1314 938.75 L1315.5 947.5 L1317 945 L1318.5 955 L1320 990 L1321 1013.75 L1322.5 998.75 L1324 995 L1325.5 990 L1327 997.5 L1328.5 982.5 L1330 960 L1331.5 947.5 L1333 935 L1334.5 953.75 L1336 952.5 L1336.88 943.53 L1337.75 933.75 L1339 967.5 L1340.5 980 L1341.75 996.25 L1342.62 990.53 L1343.5 992.5 L1345 980 L1346 960 L1347.25 934.5 L1348.5 950 L1350 987.5 L1351.5 980 L1352.75 956.25 L1354 977.5 L1355.25 990 L1356.75 975 L1358.25 960 L1359.5 953.75 L1360.5 962.5 L1362 946.25 L1362.88 940.89 L1363.75 935 L1365 915 L1366.5 908.75 L1368 925 L1369.5 917.5 L1370.75 920 L1372 942.5 L1373.5 950 L1375 976.25 L1376.5 967.5 L1378 972.5 L1379.5 965 L1380.17 967.59 L1380.83 964.9 L1381.5 960 L1383 975 L1383.67 974.62 L1384.33 968.76 L1385 968.75 L1386.5 985 L1388 990 L1389.5 980 L1391 974.5 L1391.75 1001.25 L1393 1007.5 L1394.25 1025 L1395 1045 L1396 1066.25 L1397.5 1046.25 L1398.75 1061.25 L1400 1052.5 L1401.25 1068 L1402.5 1055 L1404 1065 L1405.5 1058.75 L1407 1068.75 L1408.5 1053.75 L1409.5 1042 L1411 1060 L1412.5 1052.5 L1414 1045.5 L1415.5 1055 L1417 1072.5 L1418.25 1097.5 L1419 1125 L1420 1120 L1421 1135 L1422.25 1151.25 L1423.25 1136.25 L1424.5 1140 L1425.38 1134.37 L1426.25 1130 L1427.12 1127.75 L1428 1128.75 L1428.67 1133.8 L1429.33 1136.41 L1430 1140 L1430.67 1144.18 L1431.33 1145.06 L1432 1148.75 L1432.88 1140.6 L1433.75 1135 L1434.62 1133.01 L1435.5 1128 L1436.17 1133.91 L1436.83 1136.86 L1437.5 1138.75 L1439 1147.5 L1440.5 1135 L1442 1132.5 L1443.5 1113.75 L1445 1117.5 L1446.5 1127.5 L1448 1131.25 L1449.5 1110 L1450.38 1112.88 L1451.25 1112.5 L1452.12 1116.67 L1453 1117.5 L1453.67 1117.5 L1454.33 1113.57 L1455 1113.75 L1455.67 1112.59 L1456.33 1110.48 L1457 1110 L1457.67 1105.78 L1458.33 1104.11 L1459 1105 L1459.75 1103.37 L1460.5 1102.84 L1461.25 1103.75 L1462.12 1107.3 L1463 1108.75 L1464.5 1120 L1465.5 1135 L1467 1128.75 L1468.5 1130 L1470 1142.5 L1470.67 1145.41 L1471.33 1143.93 L1472 1145 L1472.88 1145.12 L1473.75 1141.25 L1474.62 1144.74 L1475.5 1143.75 L1477 1152.5 L1477.88 1151.38 L1478.75 1146.25 L1480 1128.75 L1481.5 1121.75 L1482.5 1142.5 L1484 1141.25 L1485.5 1146.25 L1486.17 1148.57 L1486.83 1150.86 L1487.5 1155 L1488.17 1152.15 L1488.83 1150.35 L1489.5 1150 L1490.38 1149.33 L1491.25 1151.25 L1492.12 1149.92 L1493 1147.5 L1493.67 1148.46 L1494.33 1147.36 L1495 1145 L1496.5 1139.5 L1498 1145 L1498.67 1146.16 L1499.33 1148.18 L1500 1148.75 L1500.67 1149.67 L1501.33 1146.07 L1502 1147.5 L1502.67 1149.04 L1503.33 1150.98 L1504 1150 L1504.67 1150.83 L1505.33 1150.27 L1506 1148.75 L1506.67 1148.9 L1507.33 1147.83 L1508 1149.5 L1508.67 1149.29 L1509.33 1145.75 L1510 1145 L1510.67 1143.47 L1511.33 1141.35 L1512 1136.25 L1512.88 1137.01 L1513.75 1138.75 L1514.62 1136.41 L1515.5 1135 L1517 1140 L1518.5 1131.25 L1519.5 1135 L1520.5 1155 L1521.5 1177.5 L1522.5 1162.5 L1524 1172.5 L1525.5 1170 L1526.17 1172.57 L1526.83 1172.54 L1527.5 1172.5 L1528.17 1172.91 L1528.83 1174.42 L1529.5 1177.5 L1530.17 1174.09 L1530.83 1174.88 L1531.5 1171.25 L1532.17 1172.85 L1532.83 1170.71 L1533.5 1172.5 L1534.17 1171.95 L1534.83 1170.72 L1535.5 1167 L1536.17 1167.38 L1536.83 1165.9 L1537.5 1166.25 L1538.17 1166.69 L1538.83 1165.27 L1539.5 1167 L1540.17 1164.38 L1540.83 1167.56 L1541.5 1165 L1542.17 1166.02 L1542.83 1165.94 L1543.5 1166.25 L1545 1160.75 L1546.5 1168 L1547.25 1171.03 L1548 1170.41 L1548.75 1172 L1549.5 1172.62 L1550.25 1171.61 L1551 1169.5 L1551.67 1168.53 L1552.33 1168.86 L1553 1170 L1553.83 1169.61 L1554.67 1169.82 L1555.5 1171.25 L1556.33 1171.42 L1557.17 1169.98 L1558 1170.75 L1558.83 1169.77 L1559.67 1167.97 L1560.5 1168.75 L1561.33 1169.14 L1562.17 1165.67 L1563 1165 L1564.5 1155 L1565.75 1140 L1567 1133.75 L1567.88 1132.92 L1568.75 1132.5 L1570 1118.75 L1570.67 1118.35 L1571.33 1119.18 L1572 1116.25 L1572.67 1115.42 L1573.33 1117.6 L1574 1115 L1574.67 1114.59 L1575.33 1114.33 L1576 1113.75 L1577.5 1110 L1578.17 1112.62 L1578.83 1112.46 L1579.5 1117.5 L1580.17 1115.52 L1580.83 1112.51 L1581.5 1112.5 L1582.17 1111.14 L1582.83 1116.57 L1583.5 1116.25 L1585 1127.5 L1585.67 1125.46 L1586.33 1126.54 L1587 1126.25 L1588.5 1110 L1590 1105 L1590.67 1104.99 L1591.33 1102.81 L1592 1101.25 L1592.88 1102.16 L1593.75 1105 L1594.62 1110.1 L1595.5 1115 L1596.17 1114.04 L1596.83 1114 L1597.5 1111.25 L1598.33 1110 L1599.17 1113.24 L1600 1113.75 L1600.67 1115.37 L1601.33 1118.43 L1602 1122.5 L1603.5 1135 L1605 1141.25 L1606.5 1122.5 L1607.5 1105 L1608.75 1101.25 L1610 1080 L1611.5 1073.75 L1613 1080 L1614.5 1072.5 L1616 1080 L1617.5 1072 L1619 1073.75 L1620.5 1070 L1621.17 1073.37 L1621.83 1073.38 L1622.5 1075 L1623.17 1074.55 L1623.83 1074.95 L1624.5 1072.5 L1625.38 1067.04 L1626.25 1056.25 L1627.12 1055 L1628 1054.5 L1629.5 1053 L1630.17 1054.01 L1630.83 1053.54 L1631.5 1053.75 L1632.5 1065 L1633.75 1080 L1634.62 1078.82 L1635.5 1077.5 L1637 1070 L1638.5 1062.5 L1640 1067.5 L1641.25 1072.5 L1642.12 1068.73 L1643 1062.5 L1644.5 1070 L1645.38 1073.45 L1646.25 1077.5 L1647.12 1080.83 L1648 1083.75 L1648.67 1082.37 L1649.33 1083.91 L1650 1080 L1650.67 1082.04 L1651.33 1083.94 L1652 1082.5 L1652.88 1083.68 L1653.75 1079.5 L1654.62 1080.17 L1655.5 1083.75 L1657 1088 L1657.88 1081.86 L1658.75 1075 L1660 1073.75 L1661.5 1082.5 L1663 1080 L1664.5 1092.5 L1666 1081.25 L1667.5 1087.5 L1669 1092.5 L1669.67 1096.87 L1670.33 1098.11 L1671 1098 L1672.5 1088.75 L1674 1087 L1675 1070 L1676.25 1052.5 L1677.12 1048.16 L1678 1048.75 L1679.5 1052.5 L1681 1047.5 L1682.5 1046.25 L1684 1043.75 L1685.5 1055 L1687 1052.5 L1688 1066.25 L1689.5 1053.75 L1691 1061.25 L1692.5 1055 L1693.17 1053.49 L1693.83 1056.62 L1694.5 1058 L1695.38 1054.67 L1696.25 1057 L1697.12 1056.54 L1698 1059.5 L1699.5 1063.75 L1700.33 1060.57 L1701.17 1064.02 L1702 1062.5 L1702.67 1063.69 L1703.33 1063.76 L1704 1060.5 L1704.67 1059.33 L1705.33 1064.07 L1706 1063.75 L1706.67 1063.96 L1707.33 1059.76 L1708 1061.25 L1709.5 1059.5 L1710.38 1063.25 L1711.25 1062 L1712.12 1064.67 L1713 1061.25 L1714.5 1065 L1715.5 1090 L1716.17 1088.19 L1716.83 1092.31 L1717.5 1089.5 L1718.17 1088.24 L1718.83 1088.09 L1719.5 1087.5 L1720.38 1091.87 L1721.25 1090.5 L1722.12 1085.37 L1723 1076.25 L1724.5 1091.25 L1725.17 1089.7 L1725.83 1091.69 L1726.5 1092.5 L1727.17 1091.76 L1727.83 1089.9 L1728.5 1090 L1730 1092.5 L1730.67 1092.59 L1731.33 1095.13 L1732 1098 L1733.5 1088.75 L1735 1086.25 L1735.67 1087.15 L1736.33 1082.56 L1737 1085 L1738.5 1080.75 L1740 1086.25 L1740.67 1087.4 L1741.33 1087.57 L1742 1088.75 L1742.88 1085.29 L1743.75 1087.5 L1744.62 1082.74 L1745.5 1080 L1747 1075 L1748.5 1078.75 L1750 1073.75 L1750.67 1075.35 L1751.33 1075.49 L1752 1076.25 L1753.5 1083.75 L1755 1083 L1756.5 1072.5 L1758 1070 L1759.5 1058.75 L1760.5 1040 L1761.5 1025 L1763 1018.75 L1764.5 1022.5 L1766 1018 L1767.5 1015 L1769 1017 L1770.5 1011.25 L1772 1012.5 L1773.5 996.25 L1775 995 L1776.5 1010 L1777.5 990 L1779 1007.5 L1780.5 993.75 L1782 1006.25 L1783.5 993 L1785 995 L1786.5 990 L1788 988.75 L1789.5 967.5 L1790.5 940 L1792 937 L1793.5 938 L1795 961.25 L1796.5 947 L1798 956.25 L1799.5 960 L1801 945 L1802.5 938.75 L1804 941.25 L1805.5 947.5 L1807 952.5 L1808.5 953.75 L1810 931.25 L1811.25 947.5 L1812.5 936.25 L1814 912.5 L1815.5 915 L1816.5 918.75 L1817.5 947.5 L1819 956.25 L1820.5 946.25 L1822 957.5 L1823.5 960 L1824.5 976.25 L1826 970 L1827.5 953.75 L1829 945 L1830.5 946.25 L1832 950 L1833.5 946.25 L1835 930 L1836.5 905 L1838 895 L1839.5 885 L1840 871.25 L1841.5 870 L1843 868 L1844.5 870 L1846 881.25 L1847.5 855 L1848.5 820 L1849.5 790 L1850.5 781.25 L1851.5 785 L1852.5 767.5 L1853.25 732.5 L1854 757.5 L1855 730 L1856.5 720 L1857.75 700 L1858.62 688.58 L1859.5 690.5 L1860.5 715 L1861.5 760 L1862.5 730 L1863.5 786.25 L1864.5 747.5 L1865.5 770 L1866.5 740 L1867.5 718.75 L1868.75 716.25 L1870 708.75 L1871 722.5 L1872 706.25 L1873 732.5 L1873.75 756.25 L1875 735 L1876 712.5 L1877 703.25 L1878 720 L1879 712.5 L1880 735 L1881 767.5 L1882 772.5 L1883.25 791.25 L1884.5 767.5 L1885.75 760 L1887 744.5 L1888 757.5 L1889.5 767.5 L1891 775 L1892 795 L1893.25 817 L1894.5 782.5 L1895.5 768 L1897 780 L1898.5 790 L1900 796.25 L1901.5 785 L1902.5 767.5 L1903.5 750 L1904.5 745 L1905.5 725 L1906.25 705 L1907.5 720 L1908.5 735 L1909.5 722.5 L1911 727.5 L1912.5 735 L1914 737.5 L1915.5 732.5 L1916.5 710 L1917.5 707.5 L1919 722.5 L1920.5 721.25 L1922 736.25 L1923.5 747.5 L1925 745 L1926.5 757.5 L1928 762.5 L1929.5 772.5 L1930.75 800 L1932 786.25 L1933.5 797.5 L1934.5 780 L1935.5 778 L1936.5 790 L1937.5 817.5 L1939 837.5 L1940 820 L1941.5 823.75 L1943 815 L1944 792.5 L1945 767.5 L1946 757.5 L1947 767.5 L1948 752.5 L1949 735 L1950 732.5 L1951 755 L1952 742.5 L1953 735 L1953.75 732 L1955 750 L1956.25 757.5 L1957.5 770 L1958.5 800 L1959.5 853.75 L1960.5 822.5 L1961.5 787.5 L1962.5 805 L1963.5 797.5 L1964.5 812.5 L1965.5 822.5 L1966.5 807.5 L1968 815 L1969.5 805 L1970.5 790 L1971.5 770 L1972.5 766.25 L1973.5 787.5 L1974.5 808.75 L1976 807.5 L1977 825 L1978 810 L1979 810 L1980 830 L1981.5 853.75 L1983 835 L1984 825 L1985 822.5 L1986 800 L1987 817.5 L1988 810 L1989 795 L1990 782.5 L1991 775 L1992 772.5 L1993 775 L1994 767.5 L1995 755 L1996 752.5 L1997 757.5 L1998 780 L1999 796.25 L2000.5 792.5 L2002 778.75 L2003.5 790 L2004.75 800 L2006 777.5 L2007 770 L2008 746.25 L2009 738.75 L2010 735 L2011.25 725 L2012.5 735 L2013.75 746.25 L2015 745 L2016 730 L2017 710 L2018.25 694.5 L2019.5 715 L2020.75 722.5 L2022 736.25 L2023 700 L2024 670 L2025 660 L2026 632.5 L2026.75 585 L2027 557.5 L2027.75 570 L2028.5 542.5 L2029.5 538.75 L2030.5 547.5 L2031.5 537.5 L2032.5 515 L2033.5 477.5 L2034.5 471.25 L2035.5 482.5 L2036.5 507.5 L2037.5 530 L2038.5 497.5 L2039.5 485 L2040.5 497.5 L2041.5 487.5 L2042.5 472.5 L2043.5 485 L2044.5 462.5 L2045.5 453.75 L2046.5 490 L2047.5 457.5 L2048.5 451.25 L2049.5 450 L2050.5 420 L2051.5 410.5 L2052.5 470 L2053.5 485 L2054.5 482.5 L2055.5 505 L2056.75 468.75 L2058 500 L2059.25 515 L2060.5 525 L2061.75 505 L2063 480 L2064.25 475 L2065.25 443.25 L2066.5 495 L2067.5 523.75 L2068.5 508.75 L2070 507.5 L2071.25 462.5 L2072.5 452.5 L2073.5 427.5 L2074.5 451.25 L2075.75 410.5 L2077 432.5 L2078 422.5 L2079 450 L2080 430 L2081 450 L2082.25 422 L2083.25 450 L2084.25 482.5 L2085.5 492.5 L2087 491.25 L2088.5 492.5 L2090 482.5 L2091 497.5 L2092.5 481.25 L2093.5 492.5 L2094.5 498.75 L2095.5 490 L2096.5 476.25 L2097.5 495 L2098.5 497.5 L2099.5 532.5 L2100.5 595 L2102 575 L2102.5 555 L2103.25 510.5 L2104 565 L2105 542.5 L2106 547.5 L2107 592.5 L2108.5 643.75 L2110 605 L2111.5 620 L2113 597.5 L2114.5 603.75 L2116 575 L2117.5 592.5 L2118.75 568.75 L2119.62 578.89 L2120.5 571.25 L2122 611.25 L2123.5 603.75 L2125 588.75 L2126.5 610 L2127.75 637.5 L2129 663.75 L2130.5 625 L2132 587.5 L2133.5 601.25 L2135 592.5 L2135.67 596.39 L2136.33 598.41 L2137 588.75 L2138 542.5 L2138.75 517.5 L2140 512.5 L2141 507.5 L2142 513.75 L2143 505 L2144 511.25 L2145.25 488.75 L2146.5 510 L2147.5 495 L2148.5 485 L2149.25 435 L2150.5 422.5 L2151.5 437.5 L2152.5 427.5 L2153.5 433.75 L2154.75 435 L2155.75 415 L2157 407.5 L2158 395 L2159 363 L2160 400 L2161.25 382.5 L2162.5 385 L2163.75 407.5 L2165 427.5 L2166 415 L2167 412.5 L2168 427.5 L2168.75 448.75 L2170 410 L2171 382.5 L2172 375 L2173 395 L2174 412.5 L2175 415 L2176 405 L2177 422.5 L2178.25 421.25 L2179.5 437.5 L2180.5 453.75 L2181.5 420 L2182.75 400 L2184 402.5 L2185.5 391.25 L2186.75 413.75 L2187.75 381.25 L2189 392.5 L2190.25 383.75 L2191.5 380 L2192.5 345 L2193.5 315 L2195 293.75 L2196 310 L2197 297.5 L2198.25 313.75 L2199.5 310 L2201 292.5 L2202.25 311.25 L2203.5 305 L2204.75 297.5 L2206 311.25 L2207 330 L2208.5 356.25 L2209.5 342.5 L2211 340 L2212 320 L2213.25 321.25 L2214.5 300 L2215.5 295 L2216.5 264.5 L2217.5 313.75 L2219 315 L2220 330 L2221 355 L2222 337.5 L2223 319.25 L2224 351.25 L2225 376.25 L2226 356.25 L2227 380 L2228 392 L2229 380 L2230 363.75 L2231.25 375 L2232.5 367.5 L2233.75 363.75 L2235 350 L2236.25 327.5 L2237.5 326.25 L2239 330 L2240 320 L2241.25 317.5 L2242.5 330 L2243.5 332.5 L2244.5 357.5 L2245.5 348.75 L2246.5 386.25 L2247.5 370 L2248.5 345 L2249.5 340 L2250.5 297.5 L2251.5 273.75 L2252.5 267.5 L2253.5 252.5 L2254.5 280 L2255.25 263.75 L2256 320 L2257 370 L2258 333.75 L2259 332.5 L2260 380 L2261.25 406.25 L2262.5 380 L2263.5 372.5 L2264.5 397.5 L2265.5 372.5 L2266.5 356.25 L2267.5 338.75 L2268.5 345 L2269.5 375 L2270.5 391.25 L2271.5 375 L2272.5 372.5 L2273.5 425 L2274.5 451.25 L2275.5 432.5 L2276.5 436.25 L2277.75 412 L2278.75 445 L2279.75 460 L2280.75 507.5 L2282 530 L2283 523.75 L2284 542.5 L2285 580 L2286 592.5 L2287.5 572.5 L2288.5 545 L2289.5 537 L2290.5 542.5 L2291.75 577.5 L2292.75 535 L2293.75 518 L2295 547.5 L2296.25 540 L2297.5 523.75 L2298.75 526.25 L2300 545 L2301.25 570 L2302.5 580 L2303.75 585 L2305 563.75 L2306.25 558.75 L2307.5 567.5 L2309 571.25 L2310.5 566.25 L2312 568.75 L2313.5 560 L2315 537.5 L2316.25 515 L2317.5 535 L2319 543.75 L2320.5 537.5 L2321.5 500 L2322.5 488.75 L2323.5 500 L2324.5 502.5 L2325.75 520 L2326.75 561.25 L2328 550 L2329 552.5 L2330 575 L2331 555 L2332 553.75 L2333 585 L2334 600 L2335 645 L2336 657.5 L2337 700 L2337.75 778.75 L2338.5 710 L2340 715 L2341.5 747.5 L2343 720 L2344.5 732.5 L2346 755 L2347.5 735 L2349 745 L2349.88 750.78 L2350.75 767.5 L2352 735 L2353.5 752.5 L2355 730 L2356.5 694.5 L2358 752.5 L2359.5 720 L2361 712.5 L2362.5 700 L2363.17 688.29 L2363.83 676.7 L2364.5 675.75 L2366 700 L2367.5 735 L2369 710 L2370.5 706.25 L2372 732.5 L2373.5 751.25 L2375 732.5 L2376.5 745" fill="none" stroke="#121214" stroke-width="1.6" stroke-linejoin="round" stroke-linecap="round"/>
<rect x="2389.5" y="714" width="122.5" height="54.5" fill="#0f0f12"/>
<text class="yl" x="2399" y="752.7" style="fill:#fff;stroke:#fff;letter-spacing:0.8px">$66.6K</text>
<rect x="2389.5" y="821" width="103" height="54" fill="#4d33e6"/>
<text class="yl" x="2398.3" y="860" style="fill:#fff;stroke:#fff;letter-spacing:-0.8px">54.1K</text>
<text class="ttl" y="91.7"><tspan x="1015.3" style="letter-spacing:-2.15px">Bitcoin:</tspan> <tspan x="1205.8" style="letter-spacing:-1.55px">Realized</tspan> <tspan x="1418.5" style="letter-spacing:-0.9px">Price</tspan></text>
<line x1="1053.6" y1="147.2" x2="1084" y2="147.2" stroke="#222" stroke-width="1.9" stroke-linecap="round"/>
<text class="lg" x="1092.5" y="155.6">Price USD</text>
<line x1="1274" y1="147.2" x2="1302.6" y2="147.2" stroke="#7b68ee" stroke-width="3.3" stroke-linecap="round"/>
<text class="lg" x="1311.7" y="155.6" style="letter-spacing:0.12px">Realized Price</text>
<text class="cp" x="2175.6" y="1404.2" textLength="321.6" lengthAdjust="spacingAndGlyphs">© CryptoQuant. All rights reserved</text>
</svg></body></html>
